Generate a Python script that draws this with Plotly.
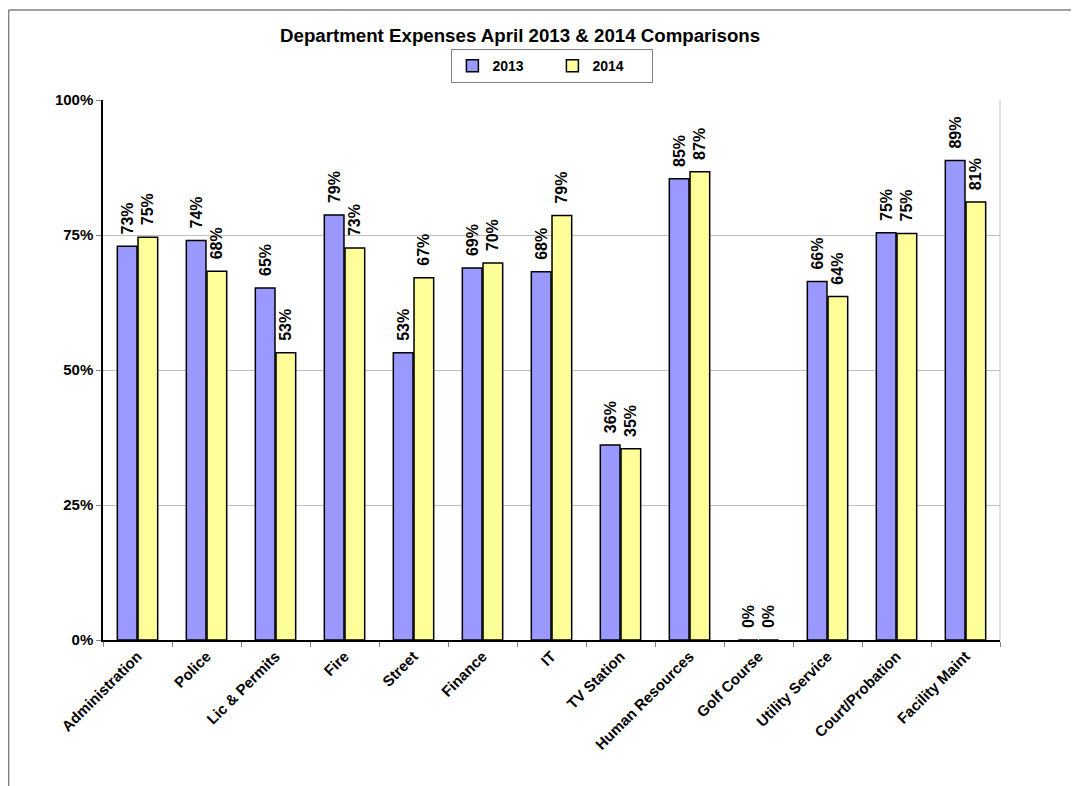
import plotly.graph_objects as go

categories = ["Administration", "Police", "Lic & Permits", "Fire", "Street", "Finance", "IT",
              "TV Station", "Human Resources", "Golf Course", "Utility Service",
              "Court/Probation", "Facility Maint"]
values_2013 = [0.729, 0.740, 0.652, 0.787, 0.532, 0.689, 0.682, 0.361, 0.854, 0.0, 0.664, 0.754, 0.888]
values_2014 = [0.746, 0.683, 0.532, 0.726, 0.671, 0.698, 0.786, 0.354, 0.867, 0.0, 0.636, 0.753, 0.811]
series_names = ["2013", "2014"]
y_ticks = [0, 0.25, 0.5, 0.75, 1.0]

FONT = "Arial, Liberation Sans, sans-serif"
NB = "\u00a0"

fig = go.Figure()
for name, vals, color in [(series_names[0], values_2013, "#9999FF"),
                          (series_names[1], values_2014, "#FFFF99")]:
    fig.add_trace(go.Bar(
        name=name, x=categories, y=vals,
        marker=dict(color=color, line=dict(color="#000000", width=1.5)),
        text=[f"{NB}{NB}{v:.0%}" for v in vals],
        textposition="outside", textangle=-90,
        textfont=dict(family=FONT, size=16, color="#000000", weight="bold"),
        constraintext="none", cliponaxis=False,
    ))

fig.update_layout(
    width=1071, height=778,
    margin=dict(l=95, r=79, t=92, b=146),
    paper_bgcolor="white", plot_bgcolor="white",
    barmode="group", bargap=0.4, bargroupgap=0.05,
    font=dict(family=FONT, size=13, color="#000000"),
    title=dict(text="Department Expenses April 2013 &amp; 2014 Comparisons",
               x=0.465, xref="paper", xanchor="center", y=1 - 27 / 778, yanchor="middle",
               font=dict(family=FONT, size=18.7, color="#000000", weight="bold")),
    legend=dict(orientation="h", x=0.501, xanchor="center", y=1.094, yanchor="top",
                bordercolor="#808080", borderwidth=1, bgcolor="white",
                font=dict(family=FONT, size=14, color="#000000", weight="bold"),
                entrywidth=55, itemwidth=30, tracegroupgap=0),
    showlegend=True,
)
fig.update_xaxes(
    tickangle=-45, ticks="outside", tickson="boundaries", ticklen=5, tickcolor="#808080",
    showline=True, linecolor="#000000", linewidth=1.5,
    tickfont=dict(family=FONT, size=15, color="#000000", weight="bold"),
)
fig.update_yaxes(
    range=[0, 1.0], tickvals=y_ticks, tickformat=".0%",
    ticks="outside", ticklen=5, tickcolor="#808080",
    showline=True, linecolor="#000000", linewidth=1.5,
    showgrid=True, gridcolor="#C0C0C0", gridwidth=1, zeroline=False,
    tickfont=dict(family=FONT, size=15, color="#000000", weight="bold"),
)

# outer frame and light right border of the plot area
fig.add_shape(type="line", xref="paper", yref="paper", x0=-0.1052, x1=1.2, y0=1.1667, y1=1.1667,
              line=dict(color="#808080", width=1.5))
fig.add_shape(type="line", xref="paper", yref="paper", x0=-0.1052, x1=-0.1052, y0=1.1667, y1=-0.3,
              line=dict(color="#808080", width=1.5))
fig.add_shape(type="line", xref="paper", yref="paper", x0=1, x1=1, y0=0, y1=1,
              line=dict(color="#C0C0C0", width=1))

fig.write_html("out.html")
